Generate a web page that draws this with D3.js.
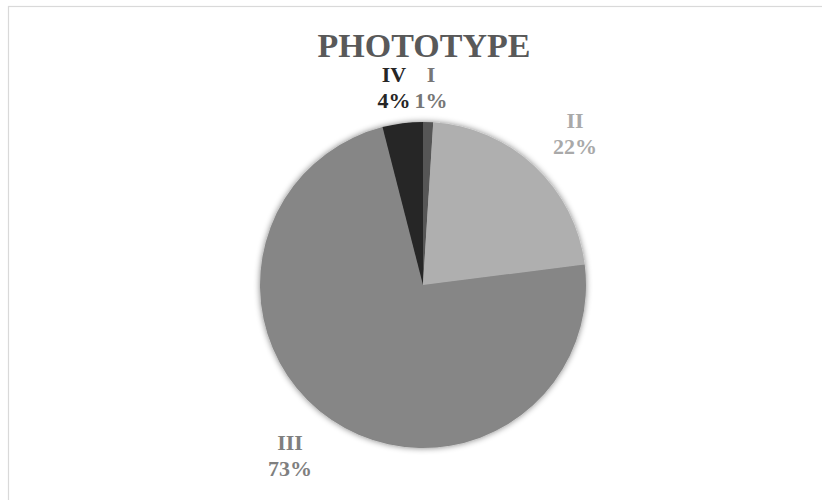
<!DOCTYPE html>
<html>
<head>
<meta charset="utf-8">
<script src="https://cdn.jsdelivr.net/npm/d3@7"></script>
<style>
  body { margin: 0; background: #fff; }
  text { font-family: "Liberation Serif", "DejaVu Serif", serif; font-weight: bold; }
</style>
</head>
<body>
<script>
var categories = ["I", "II", "III", "IV"];
var values = [1, 22, 73, 4];
var colors = ["#565656", "#afafaf", "#868686", "#262626"];
var labelColors = ["#767676", "#a9a9a9", "#7f7f7f", "#262626"];

var width = 822, height = 500;
var cx = 423, cy = 285, r = 163;

var svg = d3.select("body").append("svg").attr("width", width).attr("height", height);

// chart area border (runs off the right and bottom)
svg.append("rect")
  .attr("x", 8.5).attr("y", 6.5)
  .attr("width", 840).attr("height", 520)
  .attr("fill", "none").attr("stroke", "#d9d9d9").attr("stroke-width", 1.2);

var defs = svg.append("defs");
var f = defs.append("filter").attr("id", "shadow")
  .attr("x", "-20%").attr("y", "-20%").attr("width", "140%").attr("height", "140%");
f.append("feGaussianBlur").attr("in", "SourceAlpha").attr("stdDeviation", 3).attr("result", "b");
f.append("feComponentTransfer").attr("in", "b").attr("result", "s")
  .append("feFuncA").attr("type", "linear").attr("slope", 0.5);
var m = f.append("feMerge");
m.append("feMergeNode").attr("in", "s");
m.append("feMergeNode").attr("in", "SourceGraphic");

svg.append("text")
  .attr("x", 424).attr("y", 57)
  .attr("text-anchor", "middle")
  .attr("font-size", 34)
  .attr("fill", "#595959")
  .text("PHOTOTYPE");

var pie = d3.pie().sort(null).value(function(d){ return d; });
var arc = d3.arc().innerRadius(0).outerRadius(r);
var arcs = pie(values);

var g = svg.append("g").attr("transform", "translate(" + cx + "," + cy + ")");
g.append("g").attr("filter", "url(#shadow)")
  .selectAll("path")
  .data(arcs)
  .enter().append("path")
    .attr("d", arc)
    .attr("fill", function(d, i){ return colors[i]; });

// label positions (outside end, as placed in the original)
var labelPos = [[431, 82], [575, 128], [290, 450], [394, 82]];

var labels = svg.append("g").selectAll("g")
  .data(arcs)
  .enter().append("g")
    .attr("transform", function(d, i){ return "translate(" + labelPos[i][0] + "," + labelPos[i][1] + ")"; });

labels.append("text")
  .attr("text-anchor", "middle")
  .attr("font-size", 22)
  .attr("fill", function(d, i){ return labelColors[i]; })
  .text(function(d, i){ return categories[i]; });

labels.append("text")
  .attr("y", 26)
  .attr("text-anchor", "middle")
  .attr("font-size", 22)
  .attr("fill", function(d, i){ return labelColors[i]; })
  .text(function(d, i){ return values[i] + "%"; });
</script>
</body>
</html>
